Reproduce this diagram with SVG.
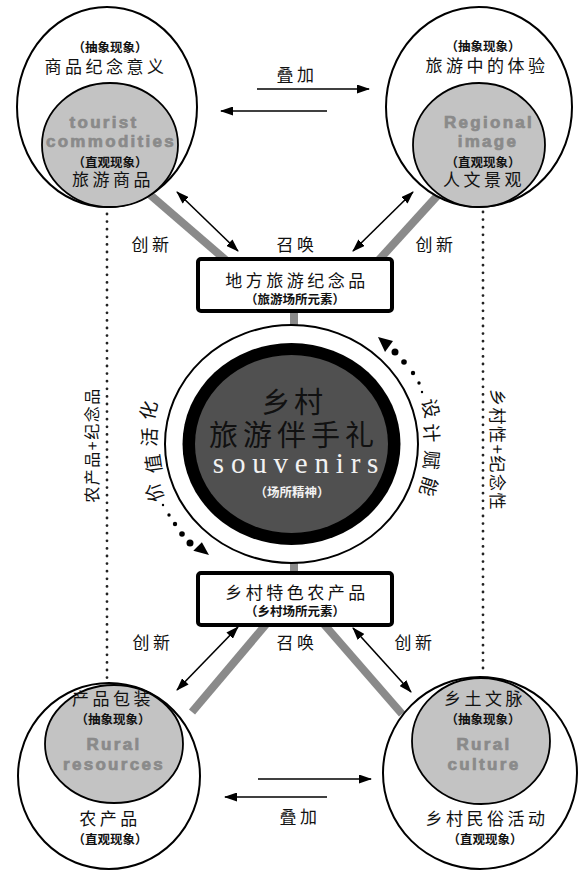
<svg xmlns="http://www.w3.org/2000/svg" width="581" height="870" viewBox="0 0 581 870">
<defs>
<style>
.cn{font-family:"Noto Sans CJK SC","Noto Sans",sans-serif;font-size:17px;letter-spacing:3.5px;text-anchor:middle;fill:#111}
.par{font-family:"Noto Sans CJK SC","Noto Sans",sans-serif;font-size:12.5px;font-weight:bold;text-anchor:middle;fill:#111}
.en{font-family:"Liberation Sans",Arial,sans-serif;font-weight:bold;font-size:17px;letter-spacing:2.3px;text-anchor:middle;fill:#8a8a8a;stroke:#8a8a8a;stroke-width:0.7}
.arc{font-family:"Noto Sans CJK SC","Noto Sans",sans-serif;font-size:19px;text-anchor:middle;dominant-baseline:central;fill:#111}
.outer{fill:#fff;stroke:#000;stroke-width:2}
.inner{fill:#c3c3c3;stroke:#000;stroke-width:1.8}
.band{stroke:#8a8a8a;stroke-width:8;fill:none}
.arr{stroke:#000;stroke-width:1.6;fill:none;marker-end:url(#ah)}
.darr{stroke:#000;stroke-width:1.6;fill:none;marker-start:url(#ah);marker-end:url(#ah)}
.dot{stroke:#222;stroke-width:2.8;stroke-linecap:round;stroke-dasharray:0 7.6;fill:none}
.box{fill:#fff;stroke:#000;stroke-width:4}
</style>
<marker id="ah" markerWidth="13" markerHeight="9" refX="12" refY="4.5" orient="auto-start-reverse" markerUnits="userSpaceOnUse"><path d="M0,0 L13,4.5 L0,9 z" fill="#000"/></marker>
</defs>
<rect width="581" height="870" fill="#fff"/>

<g id="connectors">
<line class="band" x1="148" y1="193" x2="228" y2="262"/>
<line class="band" x1="438" y1="195" x2="377" y2="262"/>
<line class="band" x1="268" y1="622" x2="192" y2="712"/>
<line class="band" x1="322" y1="622" x2="402" y2="714"/>
<line class="band" x1="294" y1="308" x2="294" y2="577"/>
<line class="darr" x1="177" y1="192" x2="238" y2="251"/>
<line class="darr" x1="413" y1="192" x2="353" y2="251"/>
<line class="darr" x1="238" y1="627" x2="177" y2="690"/>
<line class="darr" x1="353" y1="628" x2="411" y2="692"/>
<line class="arr" x1="257" y1="89" x2="369" y2="89"/>
<line class="arr" x1="327" y1="111" x2="221" y2="111"/>
<line class="arr" x1="258" y1="779" x2="371" y2="779"/>
<line class="arr" x1="327" y1="797" x2="225" y2="797"/>
<line class="dot" x1="107" y1="214" x2="107" y2="678"/>
<line class="dot" x1="483" y1="212" x2="483" y2="674"/>
</g>

<g id="top-left">
<ellipse class="outer" cx="107" cy="107" rx="90" ry="100"/>
<ellipse class="inner" cx="110" cy="145" rx="68" ry="62"/>
<text class="par" x="110" y="52">（抽象现象）</text>
<text class="cn" x="106" y="73">商品纪念意义</text>
<text class="en" x="104" y="128">tourist</text>
<text class="en" x="111" y="147">commodities</text>
<text class="par" x="110" y="167">（直观现象）</text>
<text class="cn" x="113" y="186">旅游商品</text>
</g>

<g id="top-right">
<ellipse class="outer" cx="479" cy="107" rx="93" ry="100"/>
<ellipse class="inner" cx="479" cy="145" rx="66" ry="62"/>
<text class="par" x="483" y="51">（抽象现象）</text>
<text class="cn" x="487" y="72">旅游中的体验</text>
<text class="en" x="489" y="128">Regional</text>
<text class="en" x="488" y="147">image</text>
<text class="par" x="483" y="167">（直观现象）</text>
<text class="cn" x="484" y="186">人文景观</text>
</g>

<g id="bottom-left">
<ellipse class="outer" cx="109" cy="776" rx="91" ry="93"/>
<ellipse class="inner" cx="114" cy="744" rx="69" ry="59"/>
<text class="cn" x="113" y="705">产品包装</text>
<text class="par" x="113" y="724">（抽象现象）</text>
<text class="en" x="114" y="750">Rural</text>
<text class="en" x="114" y="770">resources</text>
<text class="cn" x="110" y="825">农产品</text>
<text class="par" x="110" y="844">（直观现象）</text>
</g>

<g id="bottom-right">
<ellipse class="outer" cx="480" cy="773" rx="97" ry="96"/>
<ellipse class="inner" cx="481" cy="741" rx="69" ry="63"/>
<text class="cn" x="485" y="705">乡土文脉</text>
<text class="par" x="483" y="724">（抽象现象）</text>
<text class="en" x="484" y="750">Rural</text>
<text class="en" x="484" y="770">culture</text>
<text class="cn" x="487" y="825">乡村民俗活动</text>
<text class="par" x="485" y="844">（直观现象）</text>
</g>

<g id="box-top">
<rect class="box" x="198" y="259" width="194" height="52" rx="3"/>
<text class="cn" x="297" y="287">地方旅游纪念品</text>
<text class="par" x="295" y="304">（旅游场所元素）</text>
</g>

<g id="box-bottom">
<rect class="box" x="198" y="573" width="194" height="52" rx="3"/>
<text class="cn" x="297" y="599">乡村特色农产品</text>
<text class="par" x="295" y="616">（乡村场所元素）</text>
</g>

<g id="center">
<ellipse cx="291.5" cy="444" rx="126.5" ry="119" fill="#fff" stroke="#000" stroke-width="2"/>
<ellipse cx="291.5" cy="444" rx="109" ry="101" fill="#000"/>
<ellipse cx="291.5" cy="444" rx="96.5" ry="89" fill="#505050"/>
<text class="cn" x="294" y="413" style="font-size:29px;letter-spacing:3.5px;fill:#111">乡村</text>
<text class="cn" x="294" y="446" style="font-size:29px;letter-spacing:5px;fill:#111">旅游伴手礼</text>
<text x="299" y="473" style="font-family:'Liberation Serif',serif;font-size:29px;letter-spacing:6.8px;text-anchor:middle;fill:#f2f2f2">souvenirs</text>
<text class="par" x="292" y="497" style="fill:#f2f2f2">（场所精神）</text>
</g>

<g id="labels">
<text class="cn" x="297" y="81">叠加</text>
<text class="cn" x="300" y="823">叠加</text>
<text class="cn" x="152" y="251">创新</text>
<text class="cn" x="297" y="251">召唤</text>
<text class="cn" x="436" y="251">创新</text>
<text class="cn" x="153" y="649">创新</text>
<text class="cn" x="297" y="649">召唤</text>
<text class="cn" x="415" y="649">创新</text>
<text class="cn" transform="translate(98,445) rotate(-90)" style="font-size:16px;letter-spacing:1.5px">农产品+纪念品</text>
<text class="cn" transform="translate(491,450) rotate(90)" style="font-size:17px;letter-spacing:1.5px">乡村性+纪念性</text>
</g>

<g id="value-activation">
<text class="arc" transform="translate(153,493) rotate(-110)">价</text>
<text class="arc" transform="translate(152,464) rotate(-98)">值</text>
<text class="arc" transform="translate(148,437) rotate(-87)">活</text>
<text class="arc" transform="translate(147,410) rotate(-77)">化</text>
<circle cx="163" cy="505" r="1.2"/>
<circle cx="169" cy="515" r="1.7"/>
<circle cx="175" cy="524" r="2.2"/>
<circle cx="182" cy="534" r="2.8"/>
<circle cx="190" cy="543" r="3.5"/>
<path d="M209,555 L193.3,550.7 L201.9,542.3 z"/>
</g>

<g id="design-empowerment">
<text class="arc" transform="translate(432,408) rotate(76)">设</text>
<text class="arc" transform="translate(433,433) rotate(86)">计</text>
<text class="arc" transform="translate(433,460) rotate(96)">赋</text>
<text class="arc" transform="translate(430,487) rotate(107)">能</text>
<circle cx="422" cy="392" r="1.2"/>
<circle cx="419" cy="383" r="1.7"/>
<circle cx="413" cy="373" r="2.2"/>
<circle cx="404" cy="362" r="2.8"/>
<circle cx="395" cy="352" r="3.5"/>
<path d="M378,337 L393,341 L385,352 z"/>
</g>
</svg>
